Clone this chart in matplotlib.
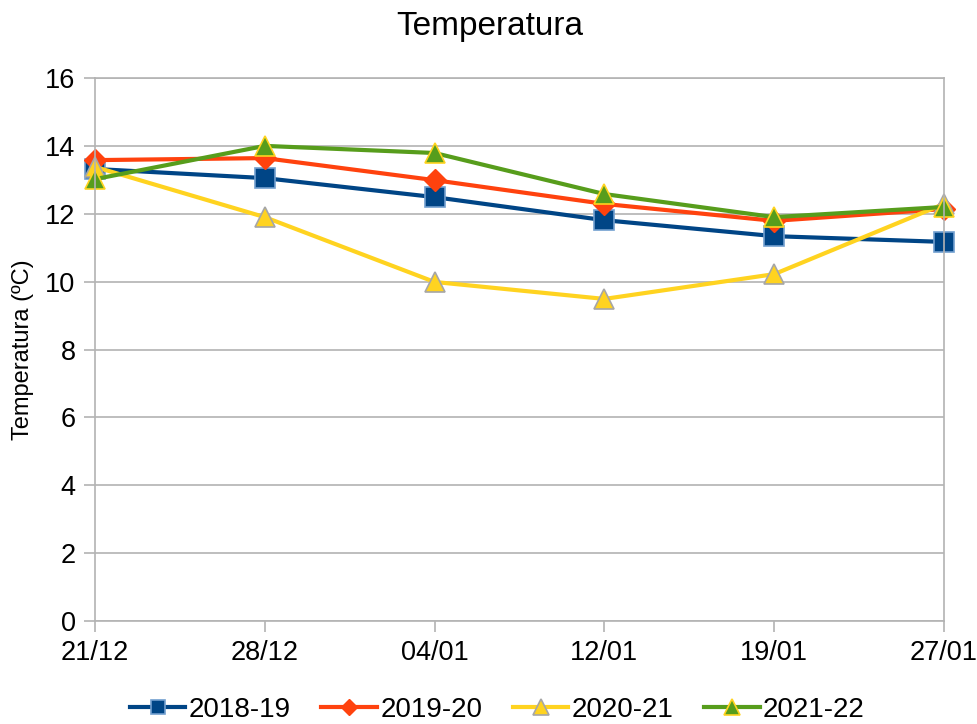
import matplotlib
matplotlib.use("Agg")
import matplotlib.pyplot as plt

plt.rcParams['font.family'] = ['Liberation Sans', 'DejaVu Sans']

dates = ["21/12", "28/12", "04/01", "12/01", "19/01", "27/01"]
s2018 = [13.32, 13.05, 12.49, 11.81, 11.34, 11.17]
s2019 = [13.58, 13.64, 12.99, 12.29, 11.79, 12.14]
s2020 = [13.38, 11.90, 9.99, 9.49, 10.22, 12.29]
s2021 = [13.02, 14.00, 13.79, 12.58, 11.90, 12.20]
labels = ["2018-19", "2019-20", "2020-21", "2021-22"]

fig = plt.figure(figsize=(9.77, 7.24), dpi=100)
ax = fig.add_axes([95/977, 1-621/724, (944-95)/977, (621-78)/724])

x = list(range(len(dates)))
styles = [
    dict(color="#004586", marker="s", ms=14, mec="#729fcf", mew=1.2),
    dict(color="#ff420e", marker="D", ms=11, mec="#ff420e", mew=1.0),
    dict(color="#ffd320", marker="^", ms=15, mec="#a6a6a6", mew=1.2),
    dict(color="#579d1c", marker="^", ms=15, mec="#ffd320", mew=1.2),
]
for vals, lab, st in zip([s2018, s2019, s2020, s2021], labels, styles):
    ax.plot(x, vals, label=lab, lw=3, clip_on=False, **st)

ax.set_xlim(0, 5)
ax.set_ylim(0, 16)
ax.set_yticks(range(0, 17, 2))
ax.set_xticks(x)
ax.set_xticklabels(dates)
ax.tick_params(axis='both', labelsize=19.5, color="#b3b3b3", length=8, width=1.2, direction='out')
ax.tick_params(axis='x', pad=6)
ax.tick_params(axis='y', pad=6)
ax.yaxis.grid(True, color="#b3b3b3", lw=1.2)
ax.set_axisbelow(True)
for sp in ax.spines.values():
    sp.set_color("#b3b3b3")
    sp.set_linewidth(1.2)

ax.set_ylabel("Temperatura (ºC)", fontsize=17, labelpad=8)
fig.text(490/977, 1-27/724, "Temperatura", ha='center', va='center', fontsize=24)

leg = fig.legend(loc='center', bbox_to_anchor=(0.509, 1-710/724), ncol=4, frameon=False,
                 fontsize=20, handlelength=2.0, columnspacing=1.1, handletextpad=0.12,
                 markerscale=0.75)
fig.savefig("out.png", dpi=100)
